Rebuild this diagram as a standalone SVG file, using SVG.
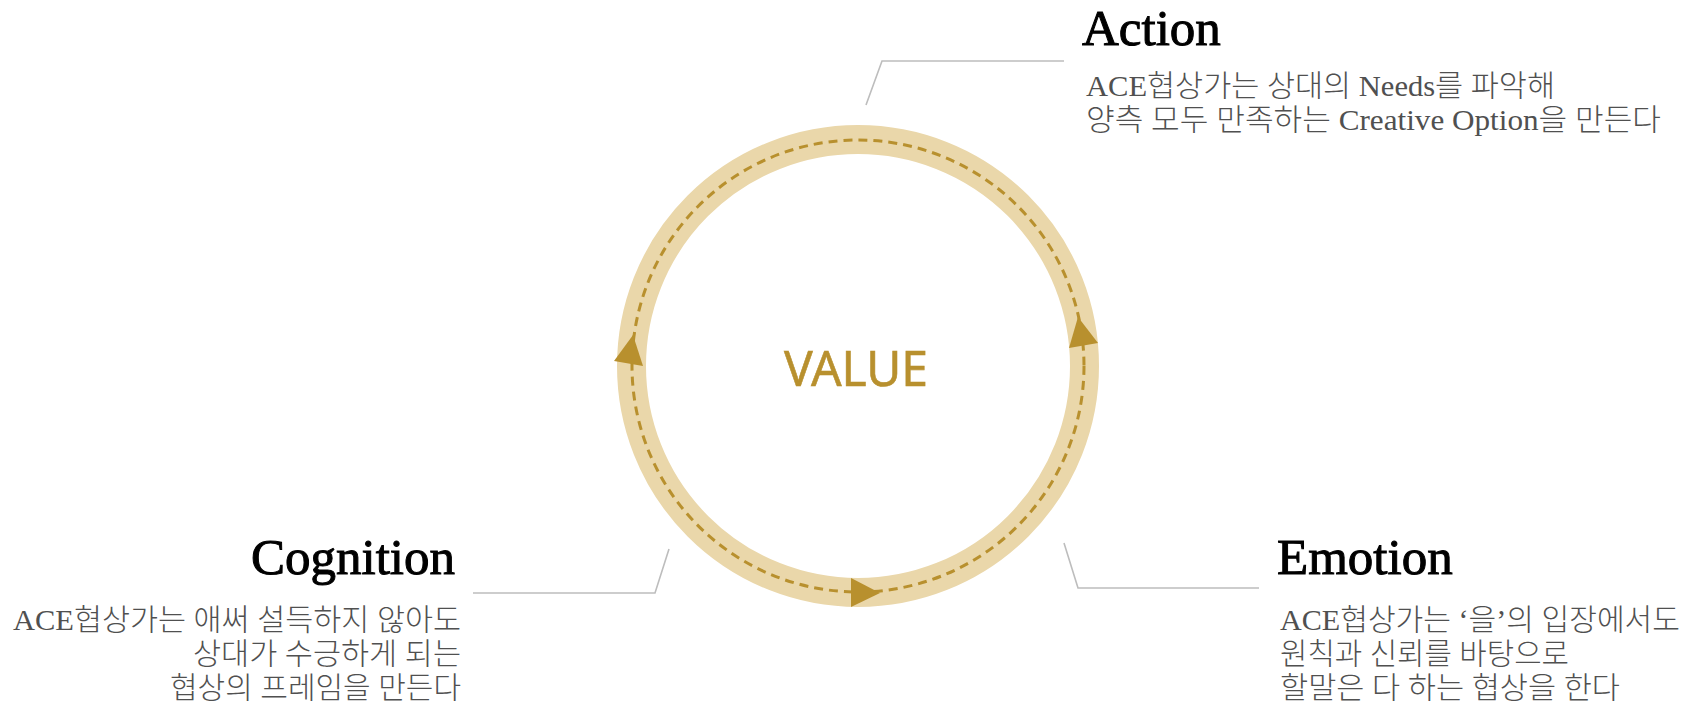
<svg xmlns="http://www.w3.org/2000/svg" width="1697" height="707" viewBox="0 0 1697 707">
<style>
.title{font-family:"Liberation Serif","Noto Sans CJK KR",serif;font-size:51px;fill:#000;stroke:#000;stroke-width:1}
.body{font-family:"Liberation Serif","Noto Sans CJK KR",serif;font-size:30px;fill:#505050;font-weight:300}
.leader{fill:none;stroke:#bdbdbd;stroke-width:1.6}
.ring{fill:none;stroke:#ead7aa;stroke-width:29}
.dash{fill:none;stroke:#b8902e;stroke-width:3;stroke-dasharray:9 6}
.arrow{fill:#b8902e}
.value{font-family:"Noto Sans",sans-serif;font-size:50px;fill:#b8902e;stroke:#b8902e;stroke-width:0.6}
</style>
<rect width="1697" height="707" fill="#fff"/>
<g id="value">
<circle class="ring" cx="858" cy="366" r="226.5"/>
<circle class="dash" cx="858" cy="366" r="226"/>
<text class="value" x="856" y="386" text-anchor="middle" textLength="144" lengthAdjust="spacingAndGlyphs">VALUE</text>
</g>
<g id="connectors">
<polygon class="arrow" points="633,335 614,361 643,366"/>
<polygon class="arrow" points="1078,317 1069,348 1098,343"/>
<polygon class="arrow" points="880,593 851,578 851,607"/>
<polyline class="leader" points="866,105 882,61 1064,61"/>
<polyline class="leader" points="473,593 655,593 669,549"/>
<polyline class="leader" points="1064,543 1078,588 1259,588"/>
</g>
<g id="action">
<text class="title" x="1082" y="45">Action</text>
<text class="body" x="1086" y="96" textLength="469" lengthAdjust="spacingAndGlyphs">ACE협상가는 상대의 Needs를 파악해</text>
<text class="body" x="1086" y="130" textLength="575" lengthAdjust="spacingAndGlyphs">양측 모두 만족하는 Creative Option을 만든다</text>
</g>
<g id="cognition">
<text class="title" x="455" y="574" text-anchor="end">Cognition</text>
<text class="body" x="461" y="630" text-anchor="end" textLength="448" lengthAdjust="spacingAndGlyphs">ACE협상가는 애써 설득하지 않아도</text>
<text class="body" x="461" y="664" text-anchor="end" textLength="268" lengthAdjust="spacingAndGlyphs">상대가 수긍하게 되는</text>
<text class="body" x="461" y="698" text-anchor="end" textLength="291" lengthAdjust="spacingAndGlyphs">협상의 프레임을 만든다</text>
</g>
<g id="emotion">
<text class="title" x="1277" y="574">Emotion</text>
<text class="body" x="1280" y="630" textLength="400" lengthAdjust="spacingAndGlyphs">ACE협상가는 ‘을’의 입장에서도</text>
<text class="body" x="1280" y="664" textLength="289" lengthAdjust="spacingAndGlyphs">원칙과 신뢰를 바탕으로</text>
<text class="body" x="1280" y="698" textLength="340" lengthAdjust="spacingAndGlyphs">할말은 다 하는 협상을 한다</text>
</g>
</svg>
